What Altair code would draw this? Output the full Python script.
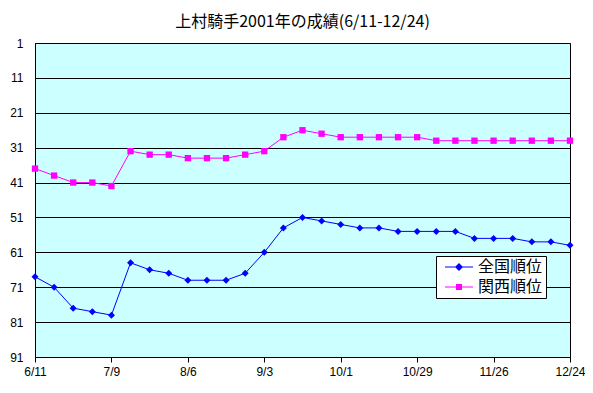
import altair as alt
import pandas as pd

weeks = ["6/11", "6/18", "6/25", "7/2", "7/9", "7/16", "7/23", "7/30", "8/6", "8/13",
         "8/20", "8/27", "9/3", "9/10", "9/17", "9/24", "10/1", "10/8", "10/15", "10/22",
         "10/29", "11/5", "11/12", "11/19", "11/26", "12/3", "12/10", "12/17", "12/24"]
national = [68, 71, 77, 78, 79, 64, 66, 67, 69, 69, 69, 67, 61, 54, 51, 52, 53, 54, 54,
            55, 55, 55, 55, 57, 57, 57, 58, 58, 59]
kansai = [37, 39, 41, 41, 42, 32, 33, 33, 34, 34, 34, 33, 32, 28, 26, 27, 28, 28, 28,
          28, 28, 29, 29, 29, 29, 29, 29, 29, 29]
series_names = ["全国順位", "関西順位"]
series_colors = ["#0000FF", "#FF00FF"]
x_labels = ["6/11", "7/9", "8/6", "9/3", "10/1", "10/29", "11/26", "12/24"]
y_ticks = [1, 11, 21, 31, 41, 51, 61, 71, 81, 91]
title_text = "上村騎手2001年の成績(6/11-12/24)"

# legend glyphs: a thin line segment with the series marker in the middle
legend_shapes = [
    "M-0.4,-0.1L5.2,-0.1L5.2,0.1L-0.4,0.1ZM2.4,-0.8L3.2,0L2.4,0.8L1.6,0Z",
    "M-0.4,-0.1L5.2,-0.1L5.2,0.1L-0.4,0.1ZM1.8,-0.6L3,-0.6L3,0.6L1.8,0.6Z",
]

df = pd.concat([
    pd.DataFrame({"week": weeks, "series": series_names[0], "rank": national}),
    pd.DataFrame({"week": weeks, "series": series_names[1], "rank": kansai}),
])

x_enc = alt.X("week:N", sort=weeks, scale=alt.Scale(type="point", padding=0),
              axis=alt.Axis(values=x_labels, labelAngle=0, title=None, grid=False,
                            tickSize=5, tickColor="black", domainColor="black",
                            labelPadding=4, labelFont="Liberation Sans", labelFontSize=12,
                            labelColor="black"))
y_enc = alt.Y("rank:Q", scale=alt.Scale(domain=[1, 91], reverse=True, nice=False, zero=False),
              axis=alt.Axis(values=y_ticks, title=None, grid=True, gridColor="black",
                            gridWidth=1, tickSize=0, domainColor="black", labelPadding=12,
                            labelFont="Liberation Sans", labelFontSize=12, labelColor="black"))
color_scale = alt.Scale(domain=series_names, range=series_colors)

leg = alt.Legend(title=None, orient="none", legendX=401, legendY=213, fillColor="white",
                 strokeColor="black", padding=3, symbolSize=100, labelOffset=23,
                 labelFont="Noto Sans CJK JP", labelFontSize=16, labelColor="black",
                 rowPadding=4, symbolStrokeWidth=0, symbolOpacity=1)

base = alt.Chart(df)

legend_layer = base.mark_point(filled=True, opacity=0).encode(
    x=x_enc, y=y_enc,
    color=alt.Color("series:N", scale=color_scale, legend=leg),
    shape=alt.Shape("series:N", scale=alt.Scale(domain=series_names, range=legend_shapes), legend=leg),
)

lines = base.mark_line(strokeWidth=1).encode(
    x=x_enc, y=y_enc,
    color=alt.Color("series:N", scale=color_scale, legend=leg),
)

pts_nat = base.transform_filter(alt.datum.series == series_names[0]).mark_point(
    shape="diamond", filled=True, size=49, opacity=1
).encode(x=x_enc, y=y_enc, color=alt.Color("series:N", scale=color_scale, legend=leg))

pts_kan = base.transform_filter(alt.datum.series == series_names[1]).mark_point(
    shape="square", filled=True, size=40, opacity=1
).encode(x=x_enc, y=y_enc, color=alt.Color("series:N", scale=color_scale, legend=leg))

chart = alt.layer(legend_layer, lines, pts_nat, pts_kan).properties(
    width=535, height=314,
    title=alt.TitleParams(title_text, font="Noto Sans CJK JP", fontSize=16,
                          fontWeight="normal", color="black", offset=7, anchor="middle"),
    autosize=alt.AutoSizeParams(type="none"),
    padding={"left": 27, "top": 35, "right": 15, "bottom": 28},
).configure_view(fill="#CCFFFF", stroke="black", strokeWidth=1)

chart.save("out.html", embed_options={"renderer": "svg", "actions": False})
